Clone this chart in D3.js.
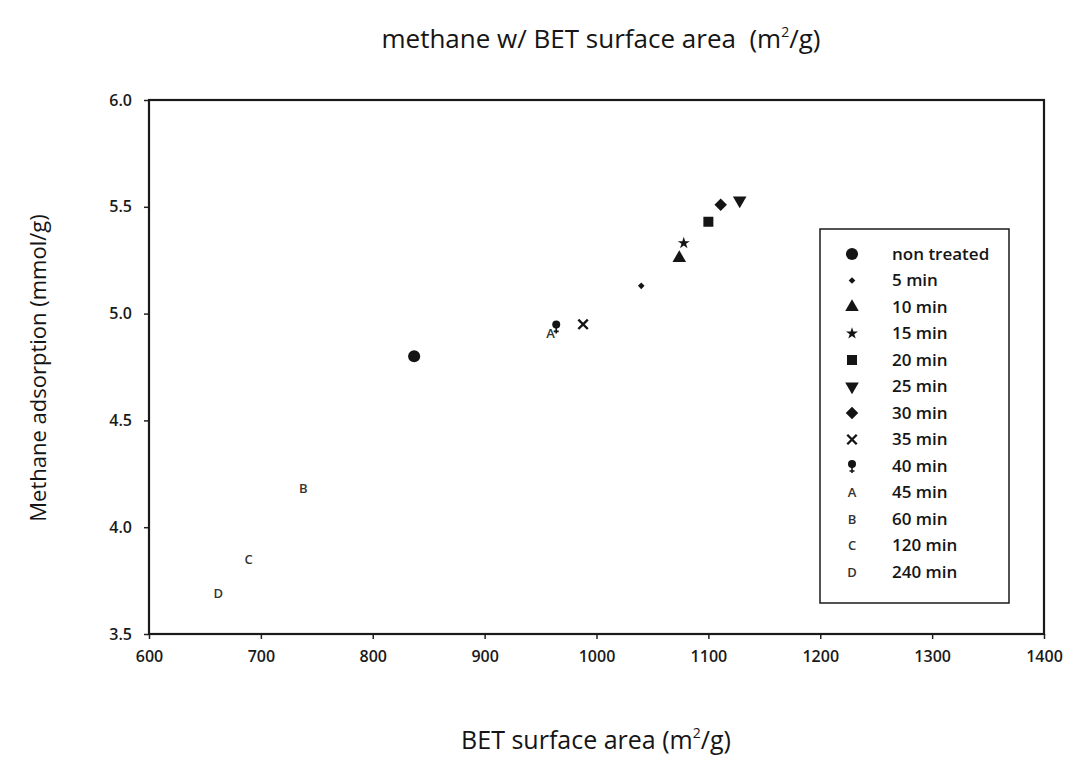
<!DOCTYPE html>
<html>
<head>
<meta charset="utf-8">
<script src="https://cdn.jsdelivr.net/npm/d3@7"></script>
<style>
  body { margin: 0; background: #fff; }
  svg text { font-family: "Open Sans", "Noto Sans", sans-serif; }
  .tick text { font-size: 16px; font-weight: 600; fill: #1a1a1a; }
  .tick line { stroke: #222; stroke-width: 1.5; }
  .domain { display: none; }
</style>
</head>
<body>
<svg width="1067" height="760"></svg>
<script>
// data
var series = ["non treated", "5 min", "10 min", "15 min", "20 min", "25 min", "30 min",
              "35 min", "40 min", "45 min", "60 min", "120 min", "240 min"];
var betArea = [837, 1040, 1074, 1078, 1100, 1128, 1111, 988, 964, 959, 738, 689, 662];
var methane = [4.80, 5.13, 5.26, 5.33, 5.43, 5.53, 5.51, 4.95, 4.94, 4.91, 4.18, 3.85, 3.69];
var markers = ["circle", "smalldiamond", "triangle", "star", "square", "triangledown", "diamond",
               "cross", "female", "A", "B", "C", "D"];
var xTicks = [600, 700, 800, 900, 1000, 1100, 1200, 1300, 1400];
var yTicks = [3.5, 4.0, 4.5, 5.0, 5.5, 6.0];

var svg = d3.select("svg");
var plotLeft = 149, plotRight = 1044, plotTop = 100, plotBottom = 634;

var xScale = d3.scaleLinear().domain([600, 1400]).range([plotLeft, plotRight]);
var yScale = d3.scaleLinear().domain([3.5, 6.0]).range([plotBottom, plotTop]);

var ink = "#151515";

// title
svg.append("text")
  .attr("x", 601).attr("y", 48)
  .attr("text-anchor", "middle")
  .style("font-size", "26px")
  .attr("fill", ink)
  .html("methane w/ BET surface area&#160;&#160;(m<tspan dy='-11' font-size='14'>2</tspan><tspan dy='11'>/g)</tspan>");

// axes
svg.append("g")
  .attr("transform", "translate(0," + plotBottom + ")")
  .call(d3.axisBottom(xScale).tickValues(xTicks).tickSize(5).tickPadding(12).tickFormat(d3.format("d")));

svg.append("g")
  .attr("transform", "translate(" + plotLeft + ",0)")
  .call(d3.axisLeft(yScale).tickValues(yTicks).tickSize(5).tickPadding(12).tickFormat(d3.format(".1f")));

// plot frame
svg.append("rect")
  .attr("x", plotLeft).attr("y", plotTop)
  .attr("width", plotRight - plotLeft).attr("height", plotBottom - plotTop)
  .attr("fill", "none").attr("stroke", "#1a1a1a").attr("stroke-width", 2.2);

// axis titles
svg.append("text")
  .attr("x", 596).attr("y", 749)
  .attr("text-anchor", "middle")
  .style("font-size", "25px")
  .attr("fill", ink)
  .html("BET surface area (m<tspan dy='-11' font-size='14'>2</tspan><tspan dy='11'>/g)</tspan>");

svg.append("text")
  .attr("transform", "translate(46,368) rotate(-90)")
  .attr("text-anchor", "middle")
  .style("font-size", "22px")
  .attr("fill", ink)
  .text("Methane adsorption (mmol/g)");

function drawMarker(g, type) {
  var letters = ["A", "B", "C", "D"];
  if (letters.indexOf(type) >= 0) {
    g.append("text")
      .attr("text-anchor", "middle").attr("dy", "0.36em")
      .style("font-size", "13px").style("font-weight", "600")
      .attr("fill", "#333").text(type);
    return;
  }
  if (type === "female") {
    g.append("circle").attr("cy", -2).attr("r", 4).attr("fill", ink);
    g.append("path").attr("d", "M0,1V7M-2.5,5H2.5").attr("stroke", ink).attr("stroke-width", 1.6);
    return;
  }
  if (type === "cross") {
    g.append("path")
      .attr("d", d3.symbol(d3.symbolTimes, 60)())
      .attr("fill", "none").attr("stroke", ink).attr("stroke-width", 2.4);
    return;
  }
  var sym, size, rot = 0;
  if (type === "circle") { sym = d3.symbolCircle; size = 115; }
  if (type === "smalldiamond") { sym = d3.symbolDiamond2; size = 28; }
  if (type === "triangle") { sym = d3.symbolTriangle; size = 80; }
  if (type === "star") { sym = d3.symbolStar; size = 45; }
  if (type === "square") { sym = d3.symbolSquare; size = 100; }
  if (type === "triangledown") { sym = d3.symbolTriangle; size = 80; rot = 180; }
  if (type === "diamond") { sym = d3.symbolDiamond2; size = 100; }
  g.append("path")
    .attr("d", d3.symbol(sym, size)())
    .attr("transform", "rotate(" + rot + ")")
    .attr("fill", ink);
}

// points
series.forEach(function(name, i) {
  var g = svg.append("g")
    .attr("transform", "translate(" + xScale(betArea[i]) + "," + yScale(methane[i]) + ")");
  drawMarker(g, markers[i]);
});

// legend
var legend = svg.append("g");
legend.append("rect")
  .attr("x", 820).attr("y", 229).attr("width", 189).attr("height", 374)
  .attr("fill", "#fff").attr("stroke", "#1a1a1a").attr("stroke-width", 1.5);

series.forEach(function(name, i) {
  var y = 254 + i * 26.5;
  var g = legend.append("g").attr("transform", "translate(852," + y + ")");
  drawMarker(g, markers[i]);
  legend.append("text")
    .attr("x", 892).attr("y", y).attr("dy", "0.35em")
    .style("font-size", "17px").style("font-weight", "600")
    .attr("fill", ink).text(name);
});
</script>
</body>
</html>
